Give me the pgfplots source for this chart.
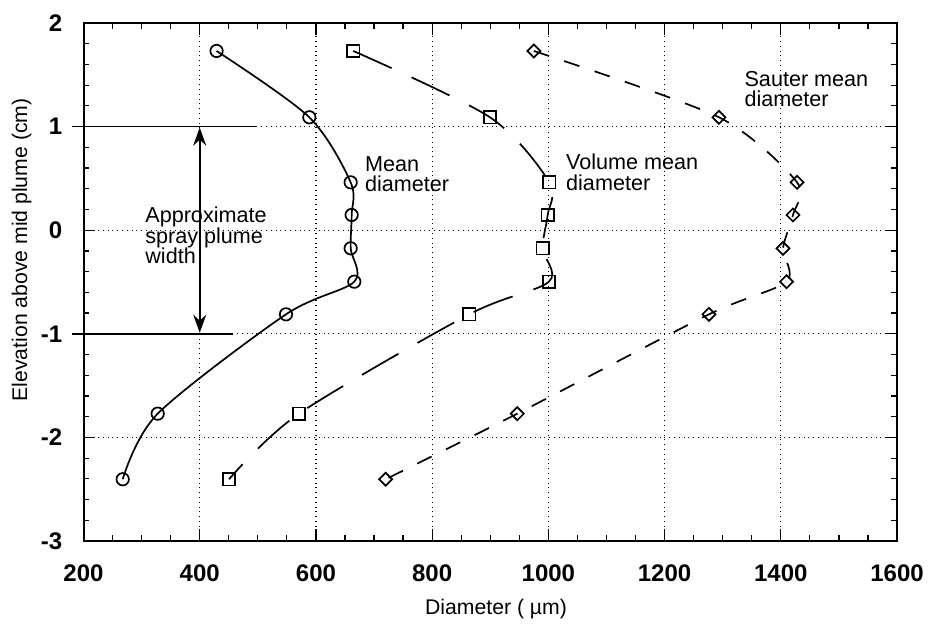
\documentclass[border=0pt]{standalone}
\usepackage{fontspec}
\setmainfont{Liberation Sans}
\usepackage{pgfplots}
\pgfplotsset{compat=1.18}
\usetikzlibrary{arrows.meta}
\begin{document}
\begin{tikzpicture}
\begin{axis}[name=ax, scale only axis, width=406.75pt, height=259pt,
  xmin=200, xmax=1600, ymin=-3, ymax=2,
  xtick={200,400,600,800,1000,1200,1400,1600},
  xticklabels={200,400,600,800,1000,1200,1400,1600},
  ytick={-3,-2,-1,0,1,2}, yticklabels={-3,-2,-1,0,1,2},
  minor x tick num=3, minor y tick num=4,
  tick align=inside, major tick length=6pt, minor tick length=3pt,
  tick style={black, line width=0.6pt},
  grid=major, major grid style={dotted, black, line width=0.6pt},
  axis line style={line width=1pt},
  xticklabel style={font=\fontsize{12}{13}\selectfont\bfseries, inner sep=0pt, yshift=-11.5pt},
  yticklabel style={font=\fontsize{12}{13}\selectfont\bfseries, inner sep=0pt, xshift=-10.5pt},
  clip=false]

% Mean diameter
\addplot[black, line width=0.85pt, smooth, tension=0.5, mark=o, mark size=3.1pt, mark options={solid, line width=0.85pt}]
 coordinates {(429,1.73) (588.6,1.09) (659.8,0.462) (661.5,0.147) (659.8,-0.175) (666,-0.497) (548.5,-0.812) (327.7,-1.771) (267.5,-2.404)};

% Volume mean diameter
\addplot[black, line width=0.85pt, smooth, tension=0.5, dash pattern=on 21pt off 11pt, mark=square, mark size=3.1pt, mark options={solid, line width=0.85pt}]
 coordinates {(664.3,1.73) (899.5,1.09) (1001.6,0.462) (998.8,0.147) (990,-0.175) (1001,-0.497) (863.9,-0.812) (570.8,-1.771) (450.4,-2.404)};

% Sauter mean diameter
\addplot[black, line width=0.85pt, smooth, tension=0.45, dash pattern=on 8pt off 8pt, mark=square, mark size=2.3pt, mark options={solid, rotate=45, line width=0.85pt}]
 coordinates {(975,1.73) (1293.6,1.09) (1428,0.462) (1421,0.147) (1403.8,-0.175) (1410,-0.497) (1276.4,-0.812) (946.5,-1.771) (720,-2.404)};

% plume width markers
\draw[black, line width=0.9pt] (axis cs:181,1) -- (axis cs:497,1);
\draw[black, line width=0.9pt] (axis cs:181,-1) -- (axis cs:458,-1);
\draw[black, line width=0.9pt, {Stealth[length=9pt,width=6.5pt]}-{Stealth[length=9pt,width=6.5pt]}] (axis cs:400,0.99) -- (axis cs:400,-0.99);

% annotations
\begin{scope}[every node/.style={inner sep=0pt, anchor=base west, font=\fontsize{10.8}{12}\selectfont}]
\node at (axis cs:305.8,0.072) {Approximate};
\node at (axis cs:305.8,-0.124) {spray plume};
\node at (axis cs:305.8,-0.326) {width};
\node at (axis cs:684,0.565) {Mean};
\node at (axis cs:684,0.372) {diameter};
\node at (axis cs:1030,0.588) {Volume mean};
\node at (axis cs:1030,0.388) {diameter};
\node at (axis cs:1337,1.385) {Sauter mean};
\node at (axis cs:1337,1.192) {diameter};
\end{scope}

% axis labels
\node[inner sep=0pt, anchor=base, font=\fontsize{10.6}{12}\selectfont] at (axis cs:910,-3.705) {Diameter ( µm)};
\node[inner sep=0pt, anchor=base, rotate=90, font=\fontsize{10.6}{12}\selectfont] at (axis cs:102.8,-0.19) {Elevation above mid plume (cm)};
\end{axis}
\pgfresetboundingbox
\path ([shift={(-41.75pt,-42pt)}]ax.south west) rectangle ([shift={(17pt,11.5pt)}]ax.north east);
\end{tikzpicture}
\end{document}
